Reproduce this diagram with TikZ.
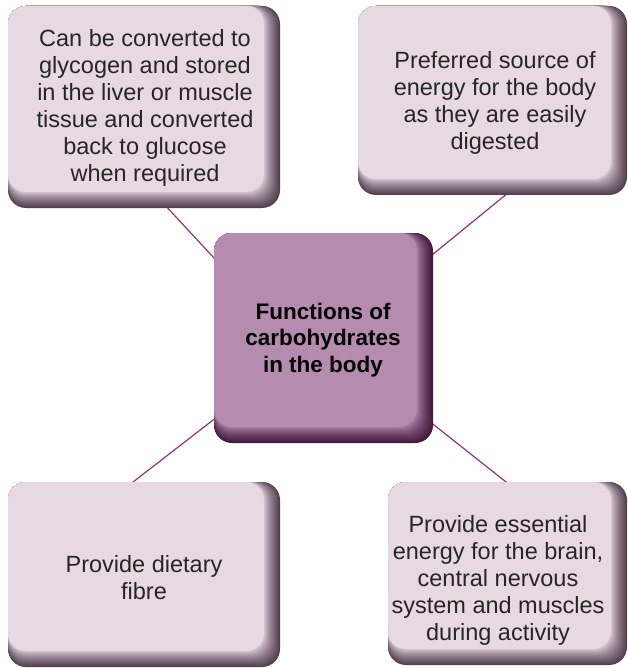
\documentclass[tikz,border=0pt]{standalone}
\usepackage{fontspec}
\setmainfont{Liberation Sans}
\usetikzlibrary{backgrounds}
\definecolor{faceL}{RGB}{231,217,226}
\definecolor{darkL}{RGB}{84,64,82}
\definecolor{faceC}{RGB}{181,139,175}
\definecolor{darkC}{RGB}{66,26,60}
\definecolor{linkC}{RGB}{140,52,126}
\newcommand\drawbutton[6]{%
  \foreach \i in {0,...,16}{%
    \pgfmathsetmacro\pct{100*(1-\i/16)^0.7}%
    \fill[#6!\pct!#5, rounded corners=18pt] (#1,#2) rectangle ({#3-\i},{#4-\i});
  }%
}
\tikzset{
  txt/.style={font=\fontsize{23.5}{27}\selectfont, align=center, inner sep=0pt, text=black!85},
  ctxt/.style={font=\fontsize{22.5}{26.5}\selectfont\bfseries, align=center, inner sep=0pt, text=black},
  link/.style={draw=linkC, line width=1.2pt}
}
\begin{document}
\begin{tikzpicture}[x=1pt,y=-1pt]
\useasboundingbox (0,0) rectangle (627,668);
% buttons
\drawbutton{8}{6}{280}{208}{faceL}{darkL}
\drawbutton{358}{6}{627}{195}{faceL}{darkL}
\drawbutton{214}{233}{433}{443}{faceC}{darkC}
\drawbutton{8}{482}{280}{667}{faceL}{darkL}
\drawbutton{388}{482}{627}{665}{faceL}{darkL}
% texts
\node[txt] (tl) at (145,108) {Can be converted to\\glycogen and stored\\in the liver or muscle\\tissue and converted\\back to glucose\\when required};
\node[txt] (tr) at (495,103) {Preferred source of\\energy for the body\\as they are easily\\digested};
\node[ctxt] (c) at (323,340) {Functions of\\carbohydrates\\in the body};
\node[txt] (bl) at (144,578) {Provide dietary\\fibre};
\node[txt] (br) at (498,580) {Provide essential\\energy for the brain,\\central nervous\\system and muscles\\during activity};
% connector end points
\coordinate (tlA) at (150,189);
\coordinate (cTL) at (240,286);
\coordinate (trA) at (530,175);
\coordinate (cTR) at (405,277);
\coordinate (blA) at (115,496);
\coordinate (cBL) at (235,403);
\coordinate (brA) at (525,497);
\coordinate (cBR) at (405,402);
\begin{scope}[on background layer]
\draw[link] (tlA) -- (cTL);
\draw[link] (trA) -- (cTR);
\draw[link] (blA) -- (cBL);
\draw[link] (brA) -- (cBR);
\end{scope}
\end{tikzpicture}
\end{document}
